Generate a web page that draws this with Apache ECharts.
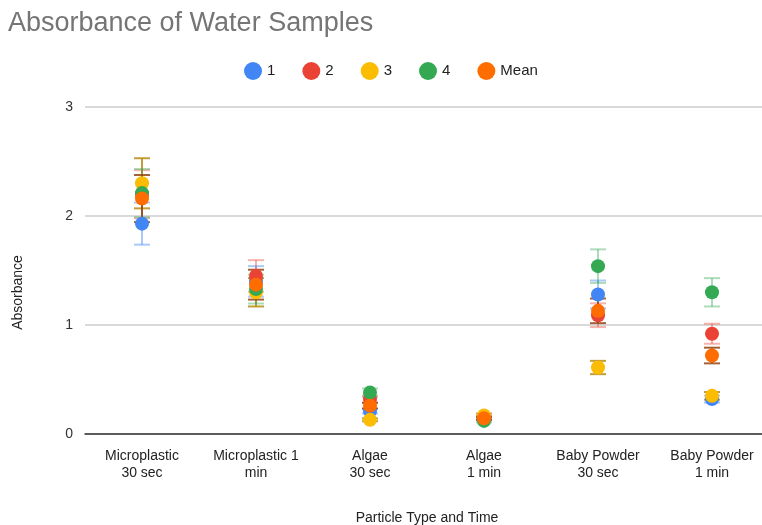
<!DOCTYPE html>
<html>
<head>
<meta charset="utf-8">
<script src="https://cdn.jsdelivr.net/npm/echarts@6/dist/echarts.min.js"></script>
<style>
  html, body { margin: 0; padding: 0; background: #fff; }
  #chart { width: 762px; height: 525px; }
</style>
</head>
<body>
<div id="chart"></div>
<script>
// Sample categories (particle type and exposure time)
const categories = [
  'Microplastic\n30 sec',
  'Microplastic 1\nmin',
  'Algae\n30 sec',
  'Algae\n1 min',
  'Baby Powder\n30 sec',
  'Baby Powder\n1 min'
];

// Absorbance readings per sample run
const sample1 = [1.93, 1.40, 0.21, 0.14, 1.28, 0.32];
const sample2 = [2.20, 1.45, 0.32, 0.15, 1.09, 0.92];
const sample3 = [2.30, 1.30, 0.13, 0.17, 0.61, 0.35];
const sample4 = [2.21, 1.33, 0.38, 0.12, 1.54, 1.30];
const meanVals = [2.16, 1.37, 0.26, 0.145, 1.13, 0.72];

const yTicks = [0, 1, 2, 3];

// Error bars are +/- 10% of each value
const errorPct = 0.10;

const seriesDefs = [
  { name: '1', data: sample1, color: '#4285f4', errColor: 'rgba(66,133,244,0.45)' },
  { name: '2', data: sample2, color: '#ea4335', errColor: 'rgba(234,67,53,0.40)' },
  { name: '3', data: sample3, color: '#fbbc04', errColor: 'rgba(184,140,20,0.85)' },
  { name: '4', data: sample4, color: '#34a853', errColor: 'rgba(52,168,83,0.40)' },
  { name: 'Mean', data: meanVals, color: '#ff6d01', errColor: 'rgba(150,70,20,0.85)' }
];

function errorBarSeries(def) {
  return {
    type: 'custom',
    name: def.name + ' err',
    z: 1,
    silent: true,
    data: def.data.map((v, i) => [i, v * (1 - errorPct), v * (1 + errorPct)]),
    encode: { x: 0, y: [1, 2] },
    renderItem: function (params, api) {
      const lo = api.coord([api.value(0), api.value(1)]);
      const hi = api.coord([api.value(0), api.value(2)]);
      const half = 8;
      const style = { stroke: def.errColor, lineWidth: 2 };
      return {
        type: 'group',
        children: [
          { type: 'line', shape: { x1: lo[0], y1: lo[1], x2: hi[0], y2: hi[1] }, style: style },
          { type: 'line', shape: { x1: lo[0] - half, y1: lo[1], x2: lo[0] + half, y2: lo[1] }, style: style },
          { type: 'line', shape: { x1: hi[0] - half, y1: hi[1], x2: hi[0] + half, y2: hi[1] }, style: style }
        ]
      };
    }
  };
}

function pointSeries(def, idx) {
  return {
    type: 'scatter',
    name: def.name,
    z: 2 + idx,
    symbol: 'circle',
    symbolSize: 14,
    itemStyle: { color: def.color, opacity: 1 },
    data: def.data.map((v, i) => [i, v])
  };
}

const series = [];
seriesDefs.forEach(d => series.push(errorBarSeries(d)));
seriesDefs.forEach((d, i) => series.push(pointSeries(d, i)));

const chart = echarts.init(document.getElementById('chart'));
chart.setOption({
  animation: false,
  backgroundColor: '#ffffff',
  textStyle: { fontFamily: 'Liberation Sans, Arial, sans-serif' },
  title: {
    text: 'Absorbance of Water Samples',
    left: 3,
    top: 5,
    textStyle: { fontSize: 27, fontWeight: 'normal', color: '#757575' }
  },
  legend: {
    data: seriesDefs.map(d => d.name),
    top: 57,
    left: 239,
    icon: 'circle',
    itemWidth: 18,
    itemHeight: 18,
    itemGap: 27,
    textStyle: { fontSize: 15, color: '#222' }
  },
  grid: { left: 85, top: 107, width: 684, height: 327, outerBoundsMode: 'none', containLabel: false },
  xAxis: {
    type: 'category',
    data: categories,
    name: 'Particle Type and Time',
    nameLocation: 'middle',
    nameGap: 77,
    nameTextStyle: { fontSize: 14, color: '#222' },
    boundaryGap: true,
    axisLine: { lineStyle: { color: '#333', width: 1.5 } },
    axisTick: { show: false },
    axisLabel: { fontSize: 14, color: '#222', lineHeight: 17, margin: 14, interval: 0 }
  },
  yAxis: {
    type: 'value',
    min: yTicks[0],
    max: yTicks[yTicks.length - 1],
    interval: 1,
    name: 'Absorbance',
    nameLocation: 'middle',
    nameGap: 60,
    nameTextStyle: { fontSize: 14, color: '#222', padding: [0, 44, 0, 0] },
    axisLine: { show: false },
    axisTick: { show: false },
    axisLabel: { fontSize: 14, color: '#333', margin: 12 },
    splitLine: { lineStyle: { color: '#d9d9d9', width: 2 } }
  },
  series: series
});
</script>
</body>
</html>
